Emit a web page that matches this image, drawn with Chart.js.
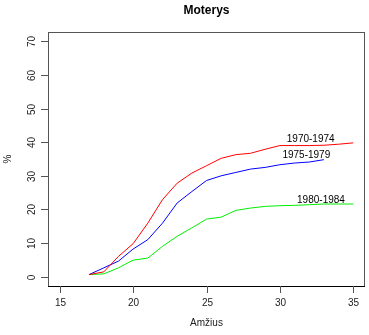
<!DOCTYPE html>
<html>
<head>
<meta charset="utf-8">
<script src="https://cdn.jsdelivr.net/npm/chart.js@4"></script>
<style>
  html, body { margin: 0; padding: 0; background: #fff; }
  #wrap { width: 369px; height: 335px; }
</style>
</head>
<body>
<div id="wrap"><canvas id="chart" width="369" height="335"></canvas></div>
<script>
// amžius (metai)
const ages = [17,18,19,20,21,22,23,24,25,26,27,28,29,30,31,32,33,34,35];

// kumuliatyvi dalis, %
const g1970 = [0.6,1.4,6.0,9.8,15.9,22.9,27.8,30.8,33.0,35.2,36.3,36.7,37.9,39.0,39.0,39.0,39.1,39.4,39.8];
const g1975 = [0.6,2.6,4.6,8.2,11.0,15.9,21.9,25.3,28.6,30.0,31.0,32.0,32.5,33.3,33.8,34.1,34.8];
const g1980 = [0.6,0.8,2.6,4.9,5.5,9.0,12.0,14.5,17.1,17.7,19.7,20.4,20.9,21.1,21.2,21.4,21.6,21.6,21.6];

const seriesNames = ['1970-1974', '1975-1979', '1980-1984'];
const seriesColors = ['#ff0000', '#0000ff', '#00ee00'];
// kur rašomi kohortų pavadinimai (amžius, %)
const labelPos = [[32.1, 41.0], [31.8, 36.2], [32.8, 22.6]];

const xTicks = [15, 20, 25, 30, 35];
const yTicks = [0, 10, 20, 30, 40, 50, 60, 70];

function toPoints(vals) {
  return vals.map((v, i) => ({ x: ages[i], y: v }));
}

const FONT = '"Liberation Sans", Arial, sans-serif';

// ašys, rėmelis ir užrašai piešiami ranka, R stiliumi
const rAxes = {
  id: 'rAxes',
  afterDraw(chart) {
    const ctx = chart.ctx;
    const a = chart.chartArea;
    const xs = chart.scales.x, ys = chart.scales.y;
    ctx.save();

    // rėmelis
    ctx.strokeStyle = '#555';
    ctx.lineWidth = 1;
    ctx.strokeRect(a.left + 0.5, a.top + 0.5, a.right - a.left - 1, a.bottom - a.top);
    ctx.strokeStyle = '#000';
    ctx.beginPath();
    ctx.moveTo(a.left, a.bottom + 0.5);
    ctx.lineTo(a.right, a.bottom + 0.5);
    ctx.stroke();

    ctx.fillStyle = '#222';
    ctx.font = '10px ' + FONT;

    // x ašis
    ctx.strokeStyle = '#555';
    ctx.textAlign = 'center';
    ctx.textBaseline = 'middle';
    xTicks.forEach(t => {
      const px = Math.round(xs.getPixelForValue(t)) + 0.5;
      ctx.beginPath();
      ctx.moveTo(px, a.bottom);
      ctx.lineTo(px, a.bottom + 7);
      ctx.stroke();
      ctx.fillText(String(t), px, 303);
    });

    // y ašis, skaičiai pasukti
    yTicks.forEach(t => {
      const py = Math.round(ys.getPixelForValue(t)) + 0.5;
      ctx.beginPath();
      ctx.moveTo(a.left - 7, py);
      ctx.lineTo(a.left, py);
      ctx.stroke();
      ctx.save();
      ctx.translate(32, py);
      ctx.rotate(-Math.PI / 2);
      ctx.fillText(String(t), 0, 0);
      ctx.restore();
    });

    // ašių pavadinimai
    ctx.fillText('Amžius', (a.left + a.right) / 2, 323);
    ctx.save();
    ctx.translate(8, (a.top + a.bottom) / 2);
    ctx.rotate(-Math.PI / 2);
    ctx.fillText('%', 0, 0);
    ctx.restore();

    // kohortų pavadinimai prie linijų
    ctx.fillStyle = '#000';
    seriesNames.forEach((name, i) => {
      ctx.fillText(name, xs.getPixelForValue(labelPos[i][0]), ys.getPixelForValue(labelPos[i][1]));
    });

    // antraštė
    ctx.font = 'bold 12px ' + FONT;
    ctx.fillText('Moterys', (a.left + a.right) / 2, 11);
    ctx.restore();
  }
};

new Chart(document.getElementById('chart').getContext('2d'), {
  type: 'line',
  data: {
    datasets: [g1970, g1975, g1980].map((vals, i) => ({
      label: seriesNames[i],
      data: toPoints(vals),
      borderColor: seriesColors[i],
      borderWidth: 1,
      pointRadius: 0,
      fill: false,
      tension: 0
    }))
  },
  options: {
    responsive: false,
    animation: false,
    layout: { padding: { left: 48, right: 4, top: 32, bottom: 49 } },
    plugins: { legend: { display: false }, tooltip: { enabled: false } },
    scales: {
      x: { type: 'linear', min: 14.2, max: 35.8, display: false },
      y: { min: -2.8, max: 72.8, display: false }
    }
  },
  plugins: [rAxes]
});
</script>
</body>
</html>
